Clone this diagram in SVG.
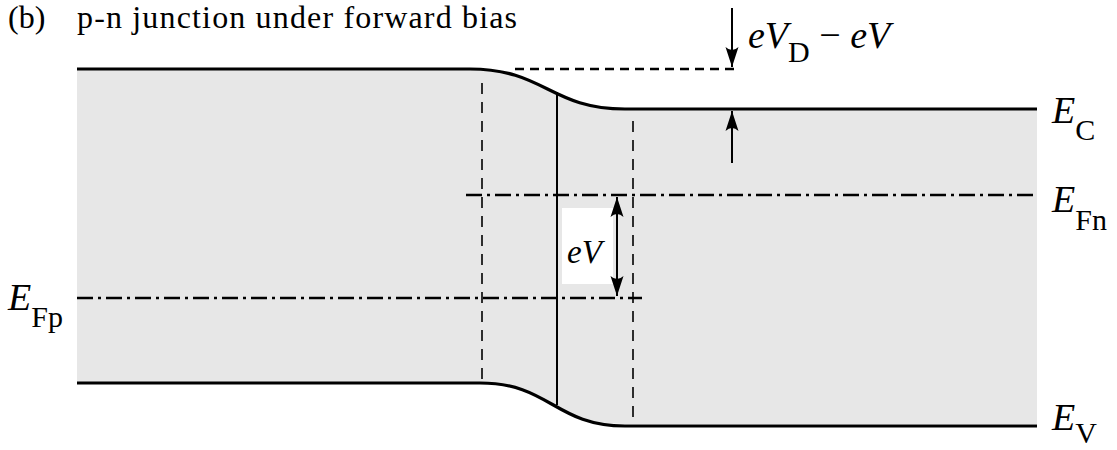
<svg xmlns="http://www.w3.org/2000/svg" width="1117" height="450" viewBox="0 0 1117 450">
<defs>
<marker id="ah" markerUnits="userSpaceOnUse" markerWidth="24" markerHeight="16" viewBox="-22 -8 24 16" refX="0" refY="0" orient="auto-start-reverse">
<path d="M0,0 L-20,-6.5 Q-14,0 -20,6.5 Z" fill="#000"/>
</marker>
</defs>
<style>
.band{fill:none;stroke:#000;stroke-width:3.2}
.dash{fill:none;stroke:#000;stroke-width:1.6;stroke-dasharray:11 8}
.dashh{fill:none;stroke:#000;stroke-width:2.4;stroke-dasharray:9 6}
.dd{fill:none;stroke:#000;stroke-width:2.4;stroke-dasharray:16 5 3 5}
.arr{fill:none;stroke:#000;stroke-width:2}
.t{font-family:"Liberation Serif","Times New Roman",serif;fill:#000}
.i{font-style:italic}
</style>
<g id="bands">
<path d="M77,69 L470,69 C545,69 550,109 625,109 L1037,109 L1037,424 L625,424 C555,424 550,383 480,383 L77,383 Z" fill="#e7e7e7"/>
<path class="band" d="M77,69 L470,69 C545,69 550,109 625,109 L1037,109"/>
<path class="band" d="M77,383 L480,383 C550,383 555,426 625,426 L1037,426"/>
</g>
<g id="junction">
<line x1="557" y1="92" x2="557" y2="405" stroke="#000" stroke-width="2"/>
<line class="dash" x1="482" y1="83" x2="482" y2="383"/>
<line class="dash" x1="633" y1="121" x2="633" y2="424"/>
</g>
<g id="fermi">
<line class="dd" x1="466" y1="195" x2="1037" y2="195"/>
<line class="dd" x1="77" y1="298" x2="642" y2="298"/>
</g>
<g id="connectors">
<line class="dashh" x1="515" y1="69" x2="735" y2="69"/>
<line class="arr" x1="732" y1="8" x2="732" y2="67" marker-end="url(#ah)"/>
<line class="arr" x1="732" y1="163" x2="732" y2="111" marker-end="url(#ah)"/>
<rect x="562" y="208" width="51" height="76" fill="#fff"/>
<line class="arr" x1="617" y1="197" x2="617" y2="296" marker-start="url(#ah)" marker-end="url(#ah)"/>
</g>
<g id="labels">
<text class="t" x="8" y="28" font-size="32" font-family="Liberation Serif, serif">(b)</text>
<text class="t" x="77" y="28" font-size="32" font-family="Liberation Serif, serif" textLength="440" lengthAdjust="spacing">p-n junction under forward bias</text>
<text class="t" x="748" y="48" font-size="38"><tspan class="i">eV</tspan><tspan font-size="30" dy="14">D</tspan><tspan dy="-14"> − </tspan><tspan class="i">eV</tspan></text>
<text class="t i" x="567" y="263" font-size="33">eV</text>
<text class="t" x="1052" y="123" font-size="38"><tspan class="i">E</tspan><tspan font-size="30" dy="17">C</tspan></text>
<text class="t" x="1052" y="212" font-size="38"><tspan class="i">E</tspan><tspan font-size="30" dy="18">Fn</tspan></text>
<text class="t" x="1052" y="430" font-size="38"><tspan class="i">E</tspan><tspan font-size="30" dy="13">V</tspan></text>
<text class="t" x="8" y="310" font-size="38"><tspan class="i">E</tspan><tspan font-size="30" dy="17">Fp</tspan></text>
</g>
</svg>
